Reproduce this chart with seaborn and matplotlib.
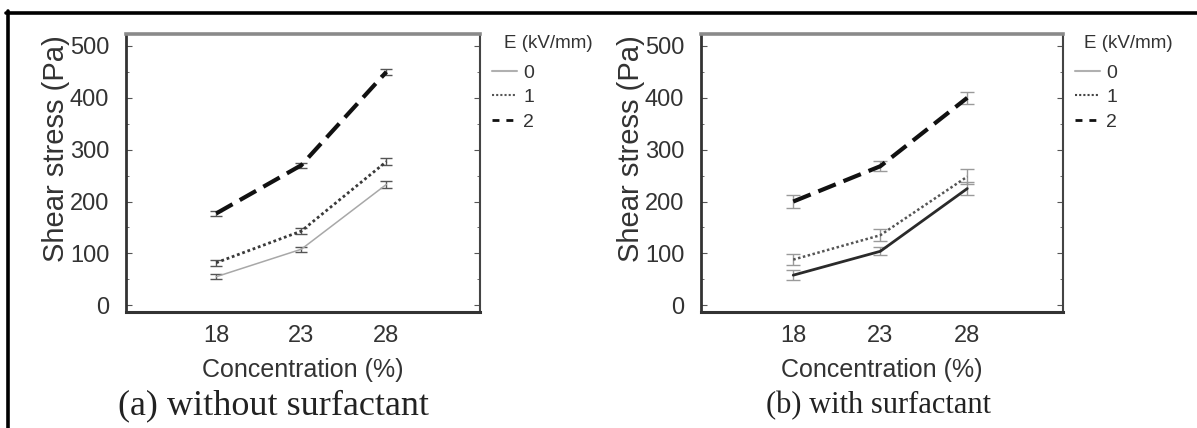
import numpy as np
import pandas as pd
import matplotlib
matplotlib.use("Agg")
import matplotlib.pyplot as plt
from matplotlib.lines import Line2D
from matplotlib.ticker import MultipleLocator
import seaborn as sns

# ---- data -------------------------------------------------------------
concentration = [18, 23, 28]
field_levels = [0, 1, 2]          # E (kV/mm)

# (a) without surfactant
stress_a_e0 = [55, 108, 233]
stress_a_e1 = [82, 143, 277]
stress_a_e2 = [177, 270, 450]
err_a_e0 = [5, 5, 6]
err_a_e1 = [6, 5, 7]
err_a_e2 = [5, 5, 6]

# (b) with surfactant
stress_b_e0 = [58, 104, 225]
stress_b_e1 = [88, 135, 248]
stress_b_e2 = [200, 268, 400]
err_b_e0 = [10, 8, 12]
err_b_e1 = [10, 12, 14]
err_b_e2 = [12, 10, 12]

x_ticks = [18, 23, 28]
y_ticks = [0, 100, 200, 300, 400, 500]
legend_title = "E (kV/mm)"
x_label = "Concentration (%)"
y_label = "Shear stress (Pa)"
caption_a = "(a) without surfactant"
caption_b = "(b) with surfactant"

# ---- style ------------------------------------------------------------
sns.set_style("white")
plt.rcParams["font.family"] = ["Liberation Sans", "DejaVu Sans"]
TXT = "#333333"

W, H = 1197, 428
fig = plt.figure(figsize=(W / 100, H / 100), dpi=100)


def px_box(left, top, right, bottom):
    return [left / W, 1 - bottom / H, (right - left) / W, (bottom - top) / H]


def long_frame(series):
    rows = []
    for e, vals in zip(field_levels, series):
        for c, v in zip(concentration, vals):
            rows.append({"conc": c, "stress": v, "E": e})
    return pd.DataFrame(rows)


def draw_panel(ax, series, errors, palette, sizes, err_color, capsize, ylabel_x):
    df = long_frame(series)
    sns.lineplot(data=df, x="conc", y="stress", hue="E", style="E", size="E",
                 palette=palette, sizes=sizes,
                 dashes={0: "", 1: (1, 1), 2: (4.5, 2)},
                 legend=False, ax=ax)
    for vals, err in zip(series, errors):
        ax.errorbar(concentration, vals, yerr=err, fmt="none", ecolor=err_color,
                    elinewidth=1.0, capsize=capsize, capthick=1.0, zorder=1)
    ax.set_xlim(12.7, 33.5)
    ax.set_ylim(-13, 523)
    ax.set_xticks(x_ticks)
    ax.set_yticks(y_ticks)
    ax.yaxis.set_minor_locator(MultipleLocator(50))
    ax.tick_params(axis="y", which="both", direction="in", left=True, right=True,
                   labelsize=17, labelcolor=TXT, color="#555555", pad=12)
    ax.tick_params(axis="y", which="major", length=4)
    ax.tick_params(axis="y", which="minor", length=2)
    ax.tick_params(axis="x", length=0, labelsize=17, labelcolor=TXT, pad=9)
    ax.set_xlabel(x_label, fontsize=18, color=TXT, labelpad=8)
    ax.set_ylabel(y_label, fontsize=21, color=TXT)
    ax.yaxis.set_label_coords(ylabel_x, 0.586)
    for side, (c, lw) in {"top": ("#8a8a8a", 2.6), "left": ("#333333", 2.0),
                          "bottom": ("#333333", 2.2), "right": ("#444444", 1.5)}.items():
        ax.spines[side].set_visible(True)
        ax.spines[side].set_color(c)
        ax.spines[side].set_linewidth(lw)


def draw_legend(ax, handle_left, title_left, label_colors):
    handles = [
        Line2D([], [], color=label_colors[0], lw=1.5, ls="-"),
        Line2D([], [], color=label_colors[1], lw=1.5, ls=(0, (1, 1))),
        Line2D([], [], color=label_colors[2], lw=2.0, ls=(0, (2.5, 2.5))),
    ]
    fig.text(title_left / W, 1 - 44 / H, legend_title, fontsize=13.5,
             color=TXT, ha="left", va="center")
    fig.legend(handles, [str(e) for e in field_levels], loc="upper left",
               bbox_to_anchor=(handle_left / W, 1 - 64 / H),
               bbox_transform=fig.transFigure, frameon=False, fontsize=14,
               labelcolor=TXT, handlelength=1.3, handletextpad=0.3,
               labelspacing=0.36, borderpad=0, borderaxespad=0)


# (a) without surfactant
ax_a = fig.add_axes(px_box(126, 34, 480, 312))
draw_panel(ax_a, [stress_a_e0, stress_a_e1, stress_a_e2],
           [err_a_e0, err_a_e1, err_a_e2],
           palette={0: "#a8a8a8", 1: "#3a3a3a", 2: "#111111"},
           sizes={0: 1.1, 1: 2.0, 2: 3.0}, err_color="#555555", capsize=4,
           ylabel_x=-0.157)
draw_legend(ax_a, 492, 504, ["#b0b0b0", "#555555", "#111111"])

# (b) with surfactant
ax_b = fig.add_axes(px_box(701, 34, 1063, 312))
draw_panel(ax_b, [stress_b_e0, stress_b_e1, stress_b_e2],
           [err_b_e0, err_b_e1, err_b_e2],
           palette={0: "#2a2a2a", 1: "#555555", 2: "#111111"},
           sizes={0: 2.0, 1: 1.8, 2: 3.0}, err_color="#9a9a9a", capsize=5,
           ylabel_x=-0.155)
draw_legend(ax_b, 1075, 1084, ["#b0b0b0", "#444444", "#111111"])

# captions
fig.text(274 / W, 1 - 406 / H, caption_a, fontsize=26, family="Liberation Serif",
         color="#222222", ha="center", va="center")
fig.text(878 / W, 1 - 406 / H, caption_b, fontsize=22, family="Liberation Serif",
         color="#222222", ha="center", va="center")

# outer frame (top and left edges)
fig.add_artist(Line2D([6 / W, 1], [1 - 12.5 / H, 1 - 12.5 / H],
                      transform=fig.transFigure, color="black", lw=2.6))
fig.add_artist(Line2D([7.5 / W, 7.5 / W], [0, 1 - 11 / H],
                      transform=fig.transFigure, color="black", lw=2.6))

fig.savefig("out.png", dpi=100, facecolor="white")
